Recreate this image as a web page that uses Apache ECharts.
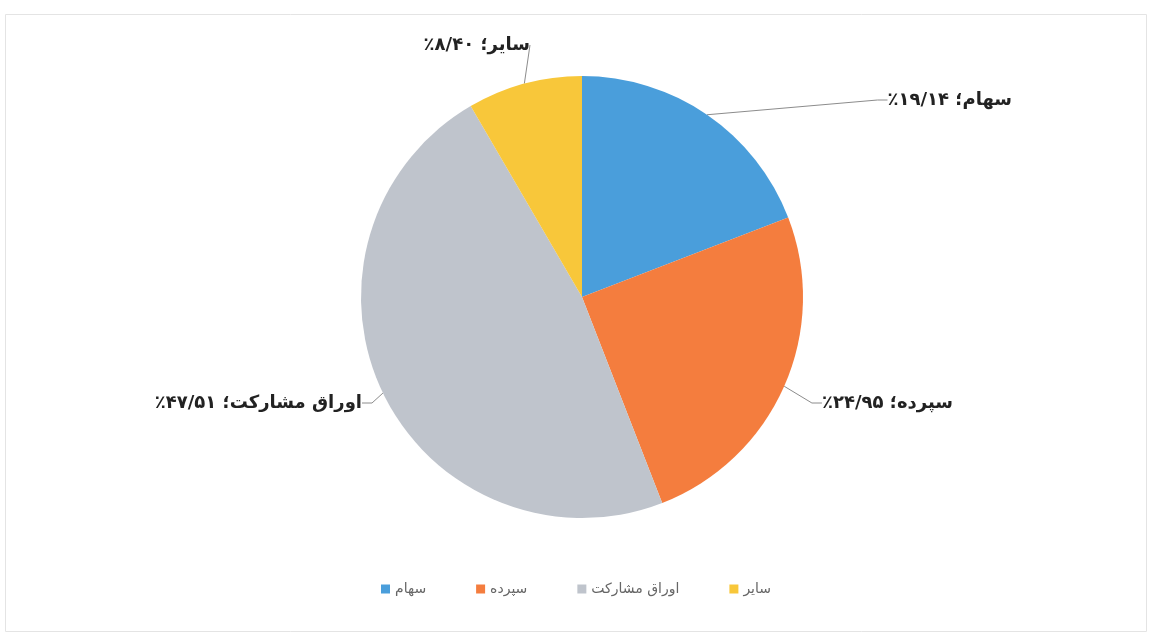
<!DOCTYPE html>
<html>
<head>
<meta charset="utf-8">
<script src="https://cdn.jsdelivr.net/npm/echarts@6/dist/echarts.min.js"></script>
<style>html,body{margin:0;padding:0;background:#fff;}#c{width:1152px;height:636px;}</style>
</head>
<body>
<div id="c"></div>
<script>
const categories = ['سهام', 'سپرده', 'اوراق مشارکت', 'سایر'];
const values = [19.14, 24.95, 47.51, 8.40];
const valueLabels = ['۱۹/۱۴', '۲۴/۹۵', '۴۷/۵۱', '۸/۴۰'];
const colors = ['#4a9edb', '#f47d3e', '#bfc4cc', '#f8c73a'];

const chart = echarts.init(document.getElementById('c'));
const labelPos = [
  {x: 1012, y: 100, align: 'right'},
  {x: 953, y: 403, align: 'right'},
  {x: 362, y: 403, align: 'right'},
  {x: 530, y: 45, align: 'right'}
];
chart.setOption({
  backgroundColor: '#ffffff',
  animation: false,
  graphic: [{
    type: 'rect', shape: {x: 5.5, y: 14.5, width: 1141, height: 617},
    style: {fill: 'none', stroke: '#e4e4e4', lineWidth: 1}
  }],
  legend: {
    data: categories,
    bottom: 35,
    left: 'center',
    itemWidth: 9,
    itemHeight: 9,
    itemGap: 50,
    icon: 'rect',
    textStyle: {fontFamily: 'DejaVu Sans', fontSize: 14, color: '#666'}
  },
  series: [{
    type: 'pie',
    center: [582, 297],
    radius: 221,
    startAngle: 90,
    clockwise: true,
    data: categories.map((c, i) => ({name: c, value: values[i], itemStyle: {color: colors[i]}})),
    label: {
      show: true,
      position: 'outside',
      formatter: p => '\u202B' + p.name + '؛ ' + valueLabels[p.dataIndex] + '٪\u202C',
      fontFamily: 'DejaVu Sans',
      fontWeight: 'bold',
      fontSize: 18,
      color: '#222'
    },
    labelLine: {show: true, length: 15, length2: 10, lineStyle: {color: '#8c8c8c', width: 1}},
    labelLayout: function (params) {
      const p = labelPos[params.dataIndex];
      return {x: p.x, y: p.y, align: p.align, verticalAlign: 'middle'};
    }
  }]
});
</script>
</body>
</html>
